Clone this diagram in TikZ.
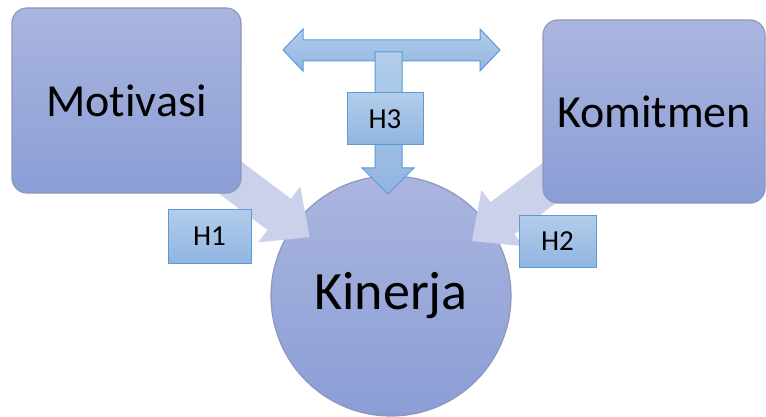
\documentclass[tikz,border=0pt]{standalone}
\usepackage{fontspec}
\setmainfont{Carlito}[Ligatures=NoCommon]
\begin{document}
\begin{tikzpicture}[x=1pt,y=-1pt,
  mainbox/.style={draw=boxedge, line width=1.2pt, top color=boxtop, bottom color=boxbot,
    rounded corners=15pt, inner sep=0pt, font=\fontsize{46}{50}\selectfont},
  hbox/.style={draw=blueedge, line width=1pt, top color=htop, bottom color=hbot,
    inner sep=0pt, font=\fontsize{29}{32}\selectfont},
  lavarrow/.style={fill=lav},
  bluearrow/.style={draw=blueedge, line width=1pt, top color=htop, bottom color=hbot, line join=miter}
]
\definecolor{boxtop}{HTML}{ABB6DF}
\definecolor{boxbot}{HTML}{8A9DD6}
\definecolor{boxedge}{HTML}{8D97BD}
\definecolor{lav}{HTML}{CBD1EB}
\definecolor{htop}{HTML}{B3CDEB}
\definecolor{hbot}{HTML}{91B5E1}
\definecolor{blueedge}{HTML}{5B9BD5}
\useasboundingbox (0,0) rectangle (766,417);

% Kinerja circle
\node[circle, draw=boxedge, line width=1.2pt, top color=boxtop, bottom color=boxbot,
  minimum size=240pt, inner sep=0pt, font=\fontsize{54}{58}\selectfont] (kin) at (391,296) {Kinerja};

% wide light arrows
\fill[lavarrow] (129.3,77.6) -- (290.9,198.8) -- (300.2,186.4) -- (309.6,237.2)
  -- (258.2,242.4) -- (267.5,230) -- (105.9,108.8) -- cycle;
\fill[lavarrow] (673.6,64.8) -- (490.4,202.2) -- (481.4,190.2) -- (472,241)
  -- (523.4,246.2) -- (514.4,234.2) -- (697.6,96.8) -- cycle;

% main boxes
\node[mainbox, minimum width=229pt, minimum height=185pt] (mot) at (126.5,100.5) {Motivasi};
\node[mainbox, minimum width=222pt, minimum height=183pt] (kom) at (654,111.5) {Komitmen};

% H1, H2 labels
\node[hbox, minimum width=83pt, minimum height=54pt] (h1) at (209.5,236) {H1};
\node[hbox, minimum width=77pt, minimum height=52pt] (h2) at (557.5,241) {H2};

% double horizontal arrow
\path[bluearrow] (283,50) -- (303,29) -- (303,40) -- (480,40) -- (480,29) -- (500,50)
  -- (480,71) -- (480,61) -- (303,61) -- (303,71) -- cycle;

% down arrow
\path[bluearrow] (375,52) -- (402,52) -- (402,168) -- (414,168) -- (388,194)
  -- (362,168) -- (375,168) -- cycle;

% H3 label
\node[hbox, minimum width=76pt, minimum height=52pt] (h3) at (385,119) {H3};
\end{tikzpicture}
\end{document}
